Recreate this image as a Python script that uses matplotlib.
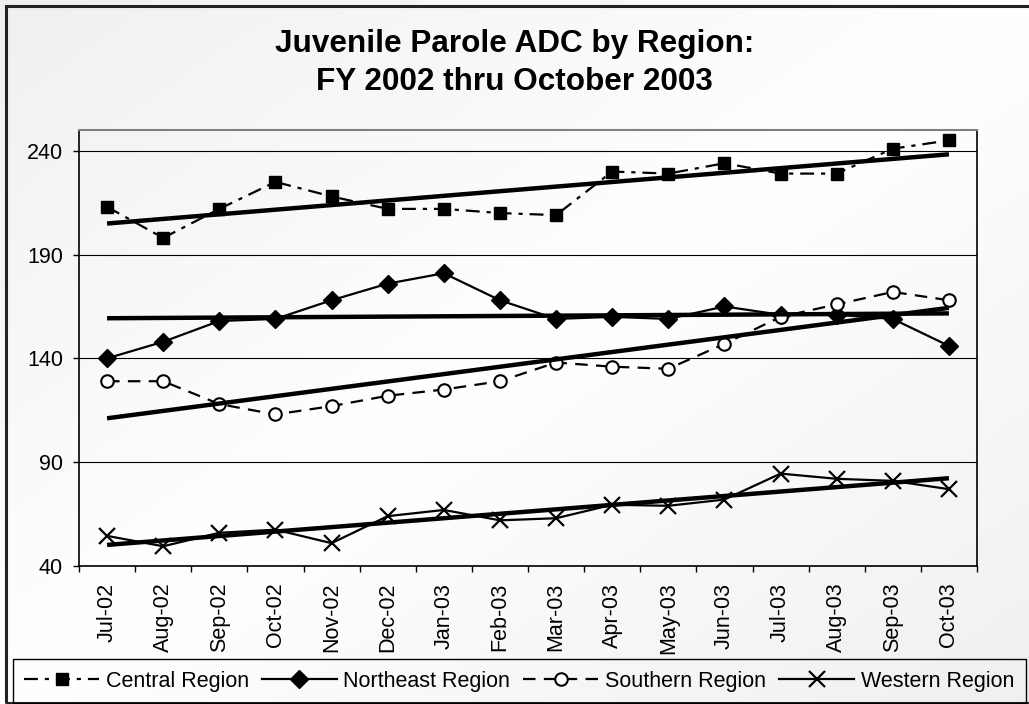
import matplotlib.pyplot as plt
import numpy as np
from matplotlib.lines import Line2D

plt.rcParams['font.family'] = ['Liberation Sans', 'DejaVu Sans']
plt.rcParams['lines.scale_dashes'] = False

# monthly average daily counts, Jul 2002 - Oct 2003
months = ["Jul-02", "Aug-02", "Sep-02", "Oct-02", "Nov-02", "Dec-02", "Jan-03", "Feb-03",
          "Mar-03", "Apr-03", "May-03", "Jun-03", "Jul-03", "Aug-03", "Sep-03", "Oct-03"]
central = [213, 198, 212, 225, 218, 212, 212, 210, 209, 230, 229, 234, 229, 229, 241, 245]
northeast = [140, 148, 158, 159, 168, 176, 181, 168, 159, 160, 159, 165, 161, 161, 159, 146]
southern = [129, 129, 118, 113, 117, 122, 125, 129, 138, 136, 135, 147, 160, 166, 172, 168]
western = [54.5, 49.5, 56, 57.5, 51, 64, 67, 62, 63, 69.5, 69, 72, 84.5, 82, 81, 77]
regions = ["Central Region", "Northeast Region", "Southern Region", "Western Region"]

fig = plt.figure(figsize=(10.29, 7.04), dpi=100)

# soft diagonal background shading
bg = fig.add_axes([0, 0, 1, 1], zorder=-10)
gx, gy = np.meshgrid(np.linspace(0, 1, 300), np.linspace(0, 1, 200))
d = np.abs(gx + gy - 1.0)
val = 1.0 - 0.06 * d
bg.imshow(np.dstack([val, val, val]), aspect='auto', extent=[0, 1, 0, 1])
bg.set_xlim(0, 1)
bg.set_ylim(0, 1)
bg.set_axis_off()
# outer chart border and legend box
bg.add_patch(plt.Rectangle((6 / 1029, 1.5 / 704), 1.1, 697 / 704, transform=bg.transAxes,
                           fill=False, edgecolor='#222222', linewidth=2.2))
bg.add_patch(plt.Rectangle((13 / 1029, 1.5 / 704), 1013 / 1029, 43.5 / 704, transform=bg.transAxes,
                           fill=False, edgecolor='black', linewidth=1.0))

ax = fig.add_axes([79 / 1029, 1 - 566 / 704, 898 / 1029, 436 / 704])
ax.set_facecolor('none')
x = np.arange(len(months))

styles = [
    dict(dashes=(10, 5, 3, 5), marker='s', markersize=8),
    dict(marker='D', markersize=9),
    dict(dashes=(9, 6), marker='o', markersize=9, markerfacecolor='white', markeredgewidth=1.5),
    dict(marker='x', markersize=11, markeredgewidth=1.6),
]
for series, st, name in zip((central, northeast, southern, western), styles, regions):
    ax.plot(x, series, color='black', linewidth=1.6, label=name, **st)
    # linear trend for each region
    slope, icept = np.polyfit(x, series, 1)
    ax.plot([x[0], x[-1]], [icept, icept + slope * x[-1]], color='black',
            linewidth=3.2, solid_capstyle='butt', zorder=5)

ax.set_xlim(-0.5, len(months) - 0.5)
ax.set_ylim(40, 250)
ax.set_yticks([40, 90, 140, 190, 240])
ax.yaxis.grid(True, color='black', linewidth=0.8)
ax.set_axisbelow(True)
ax.set_xticks(x)
ax.set_xticklabels(months, rotation=90, fontsize=15.5)
ax.set_xticks(np.arange(-0.5, len(months)), minor=True)
ax.tick_params(axis='x', which='major', length=0, pad=12)
ax.tick_params(axis='x', which='minor', length=4.5, width=1, direction='out')
ax.tick_params(axis='y', length=4.5, width=1, labelsize=15.5, pad=7)
for side in ('left', 'bottom', 'right'):
    ax.spines[side].set_color('black')
    ax.spines[side].set_linewidth(1.2)
ax.spines['top'].set_color('#808080')
ax.spines['top'].set_linewidth(1.5)

fig.text(0.5, 1 - 52 / 704, "Juvenile Parole ADC by Region:",
         ha='center', va='baseline', fontsize=22.7, fontweight='bold')
fig.text(0.5, 1 - 90 / 704, "FY 2002 thru October 2003",
         ha='center', va='baseline', fontsize=22.7, fontweight='bold')

handles = [Line2D([], [], color='black', linewidth=1.6, **st) for st in styles]
leg = fig.legend(handles, regions, loc='center', bbox_to_anchor=(519 / 1029, 1 - 681 / 704),
                 ncol=4, fontsize=15.5, handlelength=3.5, handletextpad=0.3, columnspacing=0.6,
                 frameon=False, borderpad=0.2)

fig.savefig('out.png', dpi=100)
